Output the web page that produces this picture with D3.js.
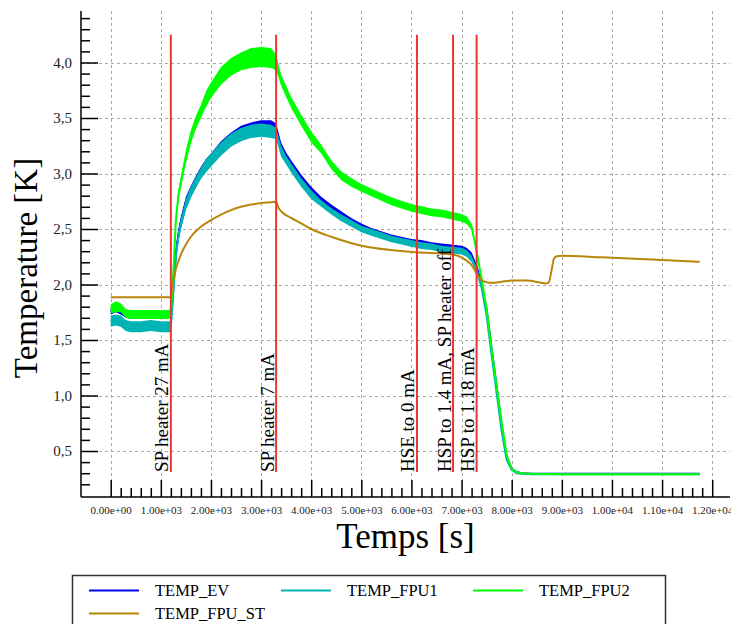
<!DOCTYPE html>
<html><head><meta charset="utf-8">
<script src="https://cdn.jsdelivr.net/npm/d3@7"></script>
<style>html,body{margin:0;padding:0;background:#fff;}svg{display:block;}</style>
</head><body>
<svg id="c" width="731" height="624"></svg>
<script>
// ---------- data ----------
const noisyTimes = [0,100,200,300,400,600,800,1000,1150,1200,1230,1260,1300,1350,1400,1500,1600,1700,1800,1900,2000,2200,2400,2600,2800,3000,3200,3300,3400,3500,3600,3800,4000,4200,4400,4600,4800,5000,5200,5400,5600,5800,6000,6200,6400,6600,6800,7000,7100,7200,7300,7400,7500,7600,7700,7800,7900,8000,8100,8200,8400,9000,10000,11000,11750];

const evValues = [1.76,1.78,1.76,1.73,1.72,1.72,1.72,1.73,1.73,1.73,1.85,2.04,2.28,2.45,2.56,2.74,2.84,2.93,3.01,3.08,3.13,3.24,3.32,3.37,3.40,3.42,3.42,3.40,3.23,3.15,3.08,2.95,2.84,2.76,2.69,2.63,2.57,2.52,2.48,2.45,2.42,2.40,2.38,2.37,2.35,2.34,2.33,2.32,2.30,2.26,2.16,2.00,1.77,1.42,1.08,0.72,0.44,0.34,0.31,0.30,0.295,0.295,0.295,0.295,0.295];
const evSpread = [0.03,0.03,0.03,0.03,0.03,0.03,0.03,0.03,0.03,0.03,0.03,0.04,0.04,0.05,0.05,0.05,0.05,0.05,0.05,0.05,0.05,0.05,0.05,0.06,0.06,0.06,0.06,0.05,0.05,0.04,0.04,0.04,0.04,0.03,0.03,0.03,0.03,0.03,0.03,0.03,0.03,0.03,0.03,0.03,0.03,0.03,0.03,0.03,0.03,0.03,0.02,0.02,0.01,0.01,0.01,0.01,0.01,0,0,0,0,0,0,0,0];

const fpu1Values = [1.67,1.68,1.67,1.63,1.62,1.62,1.63,1.62,1.62,1.62,1.80,2.00,2.25,2.43,2.54,2.72,2.83,2.92,3.00,3.07,3.12,3.22,3.30,3.35,3.38,3.39,3.38,3.36,3.20,3.12,3.05,2.92,2.81,2.73,2.66,2.60,2.55,2.50,2.47,2.44,2.41,2.39,2.37,2.35,2.34,2.32,2.31,2.30,2.28,2.23,2.13,1.97,1.72,1.36,1.02,0.68,0.42,0.33,0.30,0.295,0.29,0.29,0.29,0.29,0.29];
const fpu1Spread = [0.05,0.05,0.05,0.05,0.05,0.05,0.05,0.05,0.05,0.05,0.04,0.04,0.05,0.05,0.05,0.05,0.05,0.05,0.05,0.06,0.06,0.06,0.06,0.06,0.06,0.06,0.06,0.05,0.05,0.04,0.04,0.04,0.04,0.03,0.03,0.03,0.03,0.03,0.03,0.03,0.03,0.03,0.03,0.03,0.03,0.03,0.03,0.03,0.03,0.03,0.02,0.02,0.01,0.01,0.01,0.01,0.01,0,0,0,0,0,0,0,0];

const fpu2Values = [1.78,1.80,1.79,1.74,1.73,1.73,1.73,1.73,1.73,1.74,1.95,2.20,2.58,2.80,2.92,3.15,3.33,3.46,3.56,3.67,3.75,3.88,3.96,4.01,4.04,4.05,4.04,4.00,3.84,3.74,3.64,3.48,3.33,3.22,3.08,2.98,2.92,2.87,2.83,2.79,2.75,2.72,2.69,2.67,2.65,2.64,2.62,2.60,2.58,2.52,2.30,2.05,1.78,1.42,1.08,0.76,0.46,0.34,0.31,0.30,0.295,0.29,0.29,0.29,0.29];
const fpu2Spread = [0.04,0.05,0.04,0.04,0.04,0.04,0.04,0.04,0.04,0.04,0.04,0.05,0.05,0.05,0.05,0.06,0.06,0.06,0.06,0.07,0.07,0.08,0.08,0.08,0.09,0.09,0.09,0.07,0.05,0.05,0.05,0.05,0.05,0.04,0.04,0.04,0.04,0.035,0.035,0.035,0.035,0.035,0.035,0.035,0.035,0.035,0.035,0.035,0.035,0.03,0.02,0.02,0.01,0.01,0.01,0.01,0.01,0,0,0,0,0,0,0,0];

const stTimes = [0,1200,1230,1260,1300,1350,1400,1500,1600,1800,2000,2200,2400,2600,2800,3000,3200,3300,3350,3400,3600,3800,4000,4400,5000,5600,6100,6800,7000,7100,7200,7300,7400,7500,7600,7800,8000,8300,8700,8740,8800,8840,8900,9000,9800,10800,11750];
const stValues = [1.885,1.885,1.98,2.06,2.14,2.21,2.27,2.36,2.43,2.52,2.58,2.63,2.67,2.70,2.72,2.735,2.74,2.745,2.69,2.66,2.60,2.55,2.50,2.43,2.35,2.31,2.29,2.27,2.245,2.215,2.175,2.10,2.04,2.02,2.015,2.025,2.035,2.035,2.01,2.02,2.14,2.23,2.255,2.26,2.245,2.225,2.205];

const seriesNames = ["TEMP_EV","TEMP_FPU1","TEMP_FPU2","TEMP_FPU_ST"];
const seriesColors = ["#0000ee","#00b4b4","#00ff00","#b8860b"];

const markerTimes = [1200,3300,6110,6830,7300];
const markerLabels = ["SP heater 27 mA","SP heater 7 mA","HSE to 0 mA","HSP to 1.4 mA, SP heater off","HSP to 1.18 mA"];
const markerRange = [0.31,4.25];

const xMajorTicks = [0,1000,2000,3000,4000,5000,6000,7000,8000,9000,10000,11000,12000];
const xTickLabels = ["0.00e+00","1.00e+03","2.00e+03","3.00e+03","4.00e+03","5.00e+03","6.00e+03","7.00e+03","8.00e+03","9.00e+03","1.00e+04","1.10e+04","1.20e+04"];
const yMajorTicks = [0.5,1.0,1.5,2.0,2.5,3.0,3.5,4.0];
const yTickLabels = ["0,5","1,0","1,5","2,0","2,5","3,0","3,5","4,0"];

// ---------- layout ----------
const pLeft = 81, pRight = 730, pTop = 11, pBottom = 497;
const svg = d3.select("#c");
const FONT = "'Liberation Serif', 'Times New Roman', serif";
const x = d3.scaleLinear().domain([0,12000]).range([110.7,712.2]);
const y = d3.scaleLinear().domain([0.5,4.0]).range([451,62.5]);

const xMinor = d3.range(0,12001,200).filter(v => v % 1000 !== 0);
const yMinor = d3.range(2,45,1).map(v => v/10).filter(v => Math.round(v*10) % 5 !== 0);

// grid
const grid = svg.append("g").attr("stroke","#a8a8a8").attr("stroke-width",1).attr("stroke-dasharray","3,3");
grid.selectAll("line.v").data(xMajorTicks).join("line").attr("class","v")
  .attr("x1",d=>Math.round(x(d))+0.5).attr("x2",d=>Math.round(x(d))+0.5).attr("y1",pTop).attr("y2",pBottom);
grid.selectAll("line.h").data(yMajorTicks).join("line").attr("class","h")
  .attr("y1",d=>Math.round(y(d))+0.5).attr("y2",d=>Math.round(y(d))+0.5).attr("x1",pLeft).attr("x2",pRight);

// series
const noisy = [
  {v:evValues, s:evSpread, c:seriesColors[0]},
  {v:fpu1Values, s:fpu1Spread, c:seriesColors[1]},
  {v:fpu2Values, s:fpu2Spread, c:seriesColors[2]}
];
noisy.forEach(ser => {
  const pts = noisyTimes.map((t,i)=>({t, v:ser.v[i], s:ser.s[i]}));
  svg.append("path").datum(pts)
    .attr("fill",ser.c).attr("stroke","none")
    .attr("d", d3.area().x(d=>x(d.t)).y0(d=>y(d.v-d.s)).y1(d=>y(d.v+d.s)));
  svg.append("path").datum(pts)
    .attr("fill","none").attr("stroke",ser.c).attr("stroke-width",2)
    .attr("d", d3.line().x(d=>x(d.t)).y(d=>y(d.v)));
});
svg.append("path").datum(stTimes.map((t,i)=>({t, v:stValues[i]})))
  .attr("fill","none").attr("stroke",seriesColors[3]).attr("stroke-width",2)
  .attr("d", d3.line().curve(d3.curveMonotoneX).x(d=>x(d.t)).y(d=>y(d.v)));

// markers
const mk = svg.append("g");
mk.selectAll("line").data(markerTimes).join("line")
  .attr("x1",d=>x(d)).attr("x2",d=>x(d))
  .attr("y1",y(markerRange[0])).attr("y2",y(markerRange[1]))
  .attr("stroke","#ee3333").attr("stroke-width",2);
mk.selectAll("text").data(markerTimes).join("text")
  .attr("transform",d=>`translate(${x(d)-2.5},${y(markerRange[0])}) rotate(-90)`)
  .attr("font-family",FONT).attr("font-size",19).attr("fill","#000")
  .text((d,i)=>markerLabels[i]);

// axes
const ax = svg.append("g").attr("stroke","#000").attr("stroke-width",1.5);
ax.append("line").attr("x1",pLeft).attr("x2",pRight).attr("y1",pBottom).attr("y2",pBottom);
ax.append("line").attr("x1",pLeft).attr("x2",pLeft).attr("y1",pTop).attr("y2",pBottom);

const xAxisMajor = d3.axisBottom(x).tickValues(xMajorTicks).tickSize(-17).tickPadding(9)
  .tickFormat((d,i)=>xTickLabels[i]);
const gx = svg.append("g").attr("transform",`translate(0,${pBottom})`).call(xAxisMajor);
const gxm = svg.append("g").attr("transform",`translate(0,${pBottom})`)
  .call(d3.axisBottom(x).tickValues(xMinor).tickSize(-9).tickFormat(""));
const yAxisMajor = d3.axisLeft(y).tickValues(yMajorTicks).tickSize(-17).tickPadding(9)
  .tickFormat((d,i)=>yTickLabels[i]);
const gy = svg.append("g").attr("transform",`translate(${pLeft},0)`).call(yAxisMajor);
const gym = svg.append("g").attr("transform",`translate(${pLeft},0)`)
  .call(d3.axisLeft(y).tickValues(yMinor).tickSize(-9).tickFormat(""));
[gx,gxm,gy,gym].forEach(g=>{
  g.select(".domain").remove();
  g.selectAll(".tick line").attr("stroke","#000").attr("stroke-width",1.5);
  g.selectAll("text").attr("font-family",FONT).attr("fill","#222");
});
gx.selectAll("text").attr("font-size",11);
gy.selectAll("text").attr("font-size",15);

// titles
svg.append("text").attr("x",(pLeft+pRight)/2).attr("y",548)
  .attr("text-anchor","middle").attr("font-family",FONT).attr("font-size",35).attr("fill","#000")
  .text("Temps [s]");
svg.append("text").attr("transform",`translate(37,268) rotate(-90)`)
  .attr("text-anchor","middle").attr("font-family",FONT).attr("font-size",33).attr("fill","#000")
  .text("Temperature [K]");

// legend
const lg = svg.append("g");
lg.append("rect").attr("x",72.5).attr("y",575.5).attr("width",593).attr("height",80)
  .attr("fill","#fff").attr("stroke","#333").attr("stroke-width",1.5);
const legPos = [[89,590.5],[281,590.5],[473,590.5],[89,613.5]];
seriesNames.forEach((n,i)=>{
  const [lx,ly] = legPos[i];
  lg.append("line").attr("x1",lx).attr("x2",lx+50).attr("y1",ly).attr("y2",ly)
    .attr("stroke",seriesColors[i]).attr("stroke-width",2);
  lg.append("text").attr("x",lx+66).attr("y",ly+5.5).attr("font-family",FONT)
    .attr("font-size",16.5).attr("fill","#000").text(n);
});
</script>
</body></html>
